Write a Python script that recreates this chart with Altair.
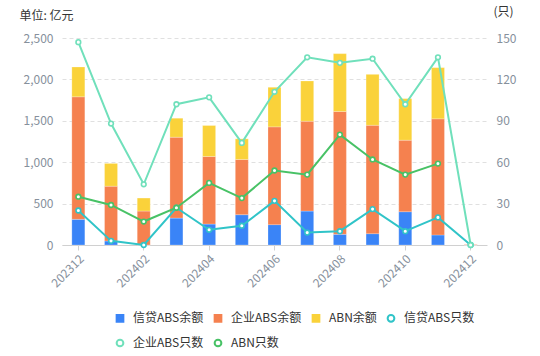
import altair as alt
import pandas as pd

months = ['202312', '202401', '202402', '202403', '202404', '202405', '202406',
          '202407', '202408', '202409', '202410', '202411', '202412']
label_months = ['202312', '202402', '202404', '202406', '202408', '202410', '202412']

# balances (亿元)
credit_bal = [310, 48, 0, 325, 253, 366, 246, 410, 129, 137, 402, 121, 0]
corp_bal = [1480, 662, 410, 977, 816, 667, 1181, 1085, 1483, 1309, 864, 1403, 8]
abn_bal = [360, 275, 157, 229, 374, 249, 478, 486, 699, 615, 502, 618, 0]

# counts (只)
credit_cnt = [25, 3, 0, 27, 11, 14, 32, 9, 10, 26, 10, 20, 0]
corp_cnt = [147, 88, 44, 102, 107, 74, 111, 136, 132, 135, 102, 136, 0]
abn_cnt = [35, 29, 17, 27, 45, 34, 54, 51, 80, 62, 51, 59, None]

series_bar = ['信贷ABS余额', '企业ABS余额', 'ABN余额']
series_line = ['信贷ABS只数', '企业ABS只数', 'ABN只数']
colors = ['#3a84f7', '#f5814f', '#fad23a', '#30c4c8', '#70e0bb', '#48c266']

bar_rows = []
for k, (name, vals) in enumerate(zip(series_bar, [credit_bal, corp_bal, abn_bal])):
    for m, v in zip(months, vals):
        bar_rows.append({'month': m, 'series': name, 'value': v, 'order': k})
bar_df = pd.DataFrame(bar_rows)

line_rows = []
for name, vals in zip(series_line, [credit_cnt, corp_cnt, abn_cnt]):
    for m, v in zip(months, vals):
        if v is not None:
            line_rows.append({'month': m, 'series': name, 'count': v})
line_df = pd.DataFrame(line_rows)

font = 'Noto Sans CJK SC'
label_color = '#86909c'
domain_all = series_bar + series_line
fill_scale = alt.Scale(domain=domain_all, range=colors[:3] + ['#ffffff'] * 3)
stroke_scale = alt.Scale(domain=domain_all, range=colors)
shape_scale = alt.Scale(domain=domain_all, range=['square'] * 3 + ['circle'] * 3)

legend = alt.Legend(
    title=None, orient='none', legendX=52, legendY=274, columns=4,
    direction='horizontal', gridAlign='each',
    columnPadding=6, rowPadding=9, symbolSize=45, symbolStrokeWidth=2,
    labelFontSize=12, labelFont=font, labelColor='#333333', labelOffset=7,
    labelLimit=0, symbolOpacity=1,
)

x_enc = alt.X(
    'month:N', sort=months,
    scale=alt.Scale(domain=months, paddingInner=0, paddingOuter=0),
    axis=alt.Axis(values=label_months, labelAngle=-45, title=None,
                  labelFont=font, labelFontSize=12, labelColor=label_color,
                  domainColor='#d0d0d0', tickColor='#d0d0d0', tickSize=5,
                  labelPadding=3, grid=False),
)

bars = alt.Chart(bar_df).mark_bar(size=13, stroke='white', strokeWidth=0.6, strokeOpacity=0.4).encode(
    x=x_enc,
    y=alt.Y('value:Q', stack='zero',
            scale=alt.Scale(domain=[0, 2500], nice=False),
            axis=alt.Axis(values=[0, 500, 1000, 1500, 2000, 2500], format=',.0f',
                          title='单位: 亿元', titleAngle=0, titleAlign='left',
                          titleBaseline='middle', titleX=-43, titleY=-23,
                          titleFont=font, titleFontSize=12, titleFontWeight='normal',
                          titleColor='#333333',
                          labelFont=font, labelFontSize=12, labelColor=label_color,
                          labelPadding=9, domain=False, ticks=False,
                          grid=True, gridColor='#e0e0e0', gridDash=[4, 3])),
    fill=alt.Fill('series:N', scale=fill_scale, legend=legend),
    order=alt.Order('order:Q', sort='ascending'),
)

x_line = alt.X('month:N', sort=months, bandPosition=0.5)
y_line = alt.Y('count:Q', scale=alt.Scale(domain=[0, 150], nice=False),
               axis=alt.Axis(orient='right', values=[0, 30, 60, 90, 120, 150],
                             title='(只)', titleAngle=0, titleAlign='left',
                             titleBaseline='middle', titleX=6, titleY=-27,
                             titleFont=font, titleFontSize=12, titleFontWeight='normal',
                             titleColor='#333333',
                             labelFont=font, labelFontSize=12, labelColor=label_color,
                             labelPadding=9, domain=False, ticks=False, grid=False))

lines = alt.Chart(line_df).mark_line(strokeWidth=2).encode(
    x=x_line, y=y_line,
    stroke=alt.Stroke('series:N', scale=stroke_scale, legend=legend),
)
points = alt.Chart(line_df).mark_point(filled=True, size=22, strokeWidth=1.6, opacity=1).encode(
    x=x_line, y=y_line,
    fill=alt.Fill('series:N', scale=fill_scale, legend=legend),
    stroke=alt.Stroke('series:N', scale=stroke_scale, legend=legend),
    shape=alt.Shape('series:N', scale=shape_scale, legend=legend),
)

chart = alt.layer(bars, alt.layer(lines, points)).resolve_scale(y='independent').properties(
    width=425, height=207,
    autosize=alt.AutoSizeParams(type='none'),
    padding={'left': 62, 'top': 38, 'right': 53, 'bottom': 111},
    background='white',
).configure_view(stroke=None)

chart.save("out.html", embed_options={"renderer": "svg", "actions": False})
